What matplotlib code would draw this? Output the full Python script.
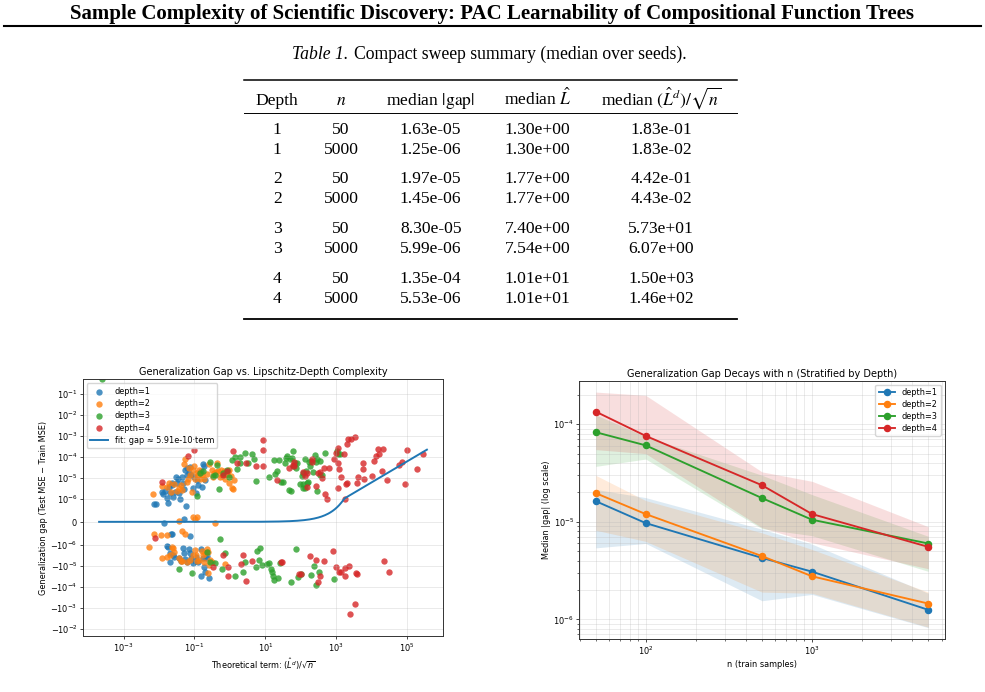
import numpy as np
import matplotlib
matplotlib.use("Agg")
import matplotlib.pyplot as plt
from matplotlib.lines import Line2D

plt.rcParams['font.family'] = ['DejaVu Sans']

# ---------------- data ----------------
page_title = "Sample Complexity of Scientific Discovery: PAC Learnability of Compositional Function Trees"
caption_lead = "Table 1."
caption_text = "Compact sweep summary (median over seeds)."
table_header = ["Depth", "$n$", "median $|\\mathrm{gap}|$", "median $\\hat{L}$",
                "median $(\\hat{L}^d)/\\sqrt{n}$"]
table_depth = ["1", "1", "2", "2", "3", "3", "4", "4"]
table_n = ["50", "5000", "50", "5000", "50", "5000", "50", "5000"]
table_gap = ["1.63e-05", "1.25e-06", "1.97e-05", "1.45e-06", "8.30e-05", "5.99e-06", "1.35e-04", "5.53e-06"]
table_L = ["1.30e+00", "1.30e+00", "1.77e+00", "1.77e+00", "7.40e+00", "7.54e+00", "1.01e+01", "1.01e+01"]
table_term = ["1.83e-01", "1.83e-02", "4.42e-01", "4.43e-02", "5.73e+01", "6.07e+00", "1.50e+03", "1.46e+02"]

# scatter: log10(theoretical term) and generalization gap
d1_logterm = [-2.083, -2.13, -1.923, -1.876, -1.82, -1.782, -1.754, -1.707, -1.688, -1.641, -1.622, -1.594,
              -1.557, -1.528, -1.5, -1.463, -1.434, -1.406, -1.36, -1.331, -1.293, -1.265, -1.237, -1.218,
              -1.2, -1.162, -1.124, -1.086, -1.049, -1.011, -0.964, -0.936, -0.908, -0.861, -0.823, -0.786,
              -0.748, -0.72, -0.692, -1.848, -1.30,
              -1.669, -1.632, -1.115, -1.763, -1.735, -1.698, -1.613, -1.698, -1.575, -1.425, -1.387, -1.312,
              -1.284, -1.256, -1.209, -1.143, -1.115, -1.087, -1.03, -0.993, -0.946, -0.805, -0.767, -0.739,
              -0.692, -0.664, -0.645, -0.579, -0.824, -0.899]
d1_gap = [7.7e-7, 7.7e-7, 2.15e-6, 1.6e-6, 2.4e-6, 1.04e-6, 8e-7, 3.7e-6, 1.9e-6, 4.5e-6, 5.8e-6, 1.25e-6,
          2.15e-6, 1.05e-5, 5.8e-6, 8.3e-6, 1.8e-6, 9.7e-7, 1.05e-5, 5.4e-6, 2.8e-6, 2.3e-5, 6.6e-7, 1.35e-5,
          2.8e-5, 1.6e-5, 3.1e-5, 1.35e-5, 3.1e-6, 1.05e-5, 1.9e-6, 7.8e-6, 4.5e-6, 1.6e-5, 2.1e-5, 3.7e-6,
          4.5e-5, 3.6e-5, 7.8e-6, -3e-8, 1.4e-7,
          -5.1e-7, -5.1e-7, -6.0e-7, -1.16e-6, -1.29e-6, -2.4e-6, -3.0e-6, -6.45e-6, -3.6e-6, -3.9e-6, -5.8e-6,
          -1.39e-6, -2.5e-6, -4.6e-6, -6.7e-6, -1.55e-6, -2.4e-6, -4.3e-6, -7.2e-6, -5.8e-6, -3.7e-6, -1.55e-6,
          -4.0e-6, -1.08e-5, -2.0e-5, -4.3e-6, -3.3e-6, -3.7e-5, -2.9e-5, -6.7e-6]

d2_logterm = [-2.158, -1.923, -1.782, -1.707, -1.669, -1.575, -1.5, -1.434, -1.387, -1.35, -1.293, -1.265,
              -1.218, -1.181, -1.143, -1.115, -1.068, -1.04, -1.021, -0.992, -0.955, -0.908, -0.88, -0.851,
              -0.814, -0.776, -0.739, -0.654, -0.598, -0.513, -0.475, -0.438, -0.4, -0.362, -0.325, -0.287,
              -0.25, -0.212, -0.174, -0.137, -0.09, -0.052, -0.015, 0.023, 0.061, 0.098, -0.033, 0.117,
              -1.434, -1.03, -0.983, -0.936, -0.419,
              -2.281, -2.14, -1.933, -1.782, -1.35, -1.256, -1.923, -1.763, -1.641, -1.594, -1.575, -1.688,
              -1.425, -1.387, -1.35, -1.218, -1.124, -1.03, -0.992, -0.955, -0.917, -0.861, -0.795, -0.748,
              -0.729, -0.692, -0.654, -0.617, -0.598, -0.56, -0.513, -0.127, -0.626]
d2_gap = [1.6e-6, 4.0e-6, 3.5e-6, 5.8e-6, 2.15e-6, 5.0e-6, 2.4e-6, 3.1e-6, 4.5e-6, 2.6e-6, 4.5e-5, 7.5e-5,
          6.45e-6, 9.0e-6, 2.8e-5, 1.3e-5, 2.1e-6, 2.3e-5, 3.5e-5, 9.0e-6, 1.6e-5, 1.34e-5, 2.3e-5, 9.0e-6,
          1.73e-5, 1.34e-5, 9.0e-6, 1.5e-5, 4.5e-5, 2.3e-5, 1.1e-5, 1.6e-5, 1.9e-5, 4.8e-5, 2.0e-5, 1.1e-5,
          2.3e-5, 1.2e-5, 2.15e-5, 8.3e-6, 1.5e-5, 2.15e-5, 5.4e-6, 1.2e-5, 3.1e-6, 2.8e-6, 2.3e-5, 7.7e-6,
          3e-8, 1.9e-7, 1.1e-7, 1.9e-7, -3e-8,
          -1.2e-6, -5.3e-7, -5.7e-7, -5.7e-7, -3.9e-7, -5.3e-7, -4.3e-6, -3.6e-6, -1.2e-6, -1.44e-6, -2.1e-6,
          -3.0e-6, -4.3e-6, -5.8e-6, -5.8e-6, -6.2e-6, -5.2e-6, -3.0e-6, -1.73e-6, -2.8e-6, -5.8e-6, -5.2e-6,
          -1.93e-6, -2.8e-6, -6.2e-6, -2.5e-6, -1.55e-6, -2.1e-6, -9.0e-6, -5.2e-6, -6.2e-6, -8.3e-6, -2.15e-5]

d3_logterm = [-3.616,
              -0.917, -0.56, -0.372, -0.419, -0.297, 0.051, 0.155, 0.286, 0.437, 0.615, 0.681, 0.211, 0.30,
              0.503, 0.728, -0.09, -0.033, -0.842, -0.767, -0.466, -0.184, 1.104, 1.245, 1.264, 1.32, 1.396,
              1.433, 1.49, 1.555, 1.584, 1.622, 1.659, 1.716, 1.697, 1.744, 1.772, 1.791, 1.838, 1.866, 1.904,
              2.026, 2.054, 2.073, 2.12, 2.148, 2.167, 2.214, 2.242, 2.261, 2.28, 2.337, 2.402, 2.43, 2.449,
              2.468, 2.543, 2.55, 2.59, 2.684, 3.013, 3.06, 3.107, 2.06, 2.13, 1.979,
              -0.278, -0.127, -1.425, -1.068, -0.635, -0.56, -0.428, -0.222, 0.145, 0.371, 0.418, 0.756, 0.86,
              0.813, 0.916, 0.75, 1.058, 1.096, 1.152, 1.19, 1.228, 1.246, 1.369, 1.416, 1.717, 1.867, 1.933,
              1.999, 2.281, 2.375, 2.431, 2.525, 2.939]
d3_gap = [0.5,
          1.34e-6, 5.8e-5, 3.9e-5, 1.3e-5, 2.8e-6, 6.9e-5, 1.0e-4, 1.0e-4, 1.44e-4, 1.3e-4, 8.0e-5, 2.7e-5,
          4.8e-5, 4.8e-5, 6.9e-6, 2.3e-5, 1.1e-5, 1.73e-5, 2.1e-5, 1.2e-5, 1.73e-5, 1.1e-5, 6.9e-5, 1.44e-5,
          2.1e-5, 6.9e-5, 6.2e-6, 6.2e-6, 4.8e-5, 9.0e-5, 1.08e-4, 2.6e-6, 2.3e-6, 7.5e-5, 9.0e-5, 1.86e-4,
          3.6e-5, 4.8e-5, 3.0e-5, 4.8e-5, 1.2e-5, 1.73e-5, 4.8e-6, 7.5e-5, 2.1e-5, 5.8e-6, 6.2e-6, 5.6e-5,
          3.6e-5, 6.2e-5, 1.86e-5, 1.24e-4, 5.6e-5, 2.3e-6, 7.5e-5, 6.2e-5, 1.3e-5, 1.3e-5, 1.55e-4, 1.86e-4,
          1.3e-4, 1.3e-4, 3.3e-6, 3.1e-6, 4.8e-6,
          -7.4e-7, -2.5e-6, -1.44e-5, -2.2e-5, -2.2e-6, -6.2e-6, -7.5e-6, -1.44e-5, -3.0e-5, -1.86e-5, -6.7e-6,
          -1.86e-6, -1.44e-6, -5.2e-6, -9.0e-6, -1.16e-5, -8.3e-6, -7.5e-6, -1.39e-5, -1.86e-5, -2.9e-5,
          -4.6e-5, -3.5e-5, -7.5e-6, -5.6e-5, -1.6e-6, -3.2e-5, -2.4e-5, -2.7e-5, -1.0e-5, -8.0e-5, -1.86e-5,
          -4.3e-5]

d4_logterm = [-1.905, -1.19, -1.021, 0.098, 0.192, 0.446, 0.728, 0.926, 0.93, 0.945, -0.184, -0.09, 1.32,
              1.678, 1.772, 1.81, 1.819, 2.073, 2.12, 2.167, 2.17, 2.308, 2.327, 2.43, 2.496, 2.543, 2.59,
              2.656, 2.684, 2.731, 2.787, 2.938, 2.994, 3.041, 3.06, 3.088, 3.144, 3.045, 3.22, 3.248, 3.276,
              3.314, 3.295, 3.333, 3.408, 3.54, 3.577, 3.624, 3.746, 3.765, 3.77, 4.0, 4.066, 4.122, 4.188,
              4.217, 4.33, 4.283, 4.442, 4.781, 4.847, 4.941, 5.007, 5.289, 5.458,
              -2.102, -0.184, -0.485, -0.052, -0.04, 0.381, 0.456, 0.625, 0.305, 1.433, 1.471, 1.96, 1.997,
              2.26, 2.43, 2.533, 2.486, 2.656, 2.91, 3.004, 3.07, 3.126, 3.239, 3.258, 3.352, 3.559, 3.597,
              4.349, 4.5, 3.522, 3.39]
d4_gap = [6.2e-6, 1.08e-4, 2.1e-4, 1.86e-4, 4.8e-5, 4.8e-5, 3.6e-5, 6.2e-4, 2.1e-4, 3.6e-5, 1.3e-5, 2.1e-5,
          7.7e-6, 3.0e-5, 3.9e-5, 5.6e-5, 3.6e-5, 1.86e-5, 1.2e-5, 1.73e-5, 3.5e-6, 7.5e-5, 5.6e-5, 4.0e-6,
          1.6e-5, 1.93e-5, 1.0e-5, 3.0e-5, 1.6e-6, 1.0e-6, 3.0e-5, 8.0e-5, 1.55e-4, 2.7e-4, 5.2e-5, 2.5e-5,
          1.1e-5, 3.3e-6, 1.39e-4, 1.0e-6, 4.8e-6, 5.8e-6, 3.9e-4, 6.7e-4, 6.7e-4, 9.0e-4, 5.4e-6, 1.1e-5,
          5.2e-5, 2.5e-5, 8.3e-6, 1.2e-5, 6.2e-5, 1.08e-4, 2.2e-4, 1.39e-4, 2.4e-4, 2.1e-5, 7.7e-6, 3.9e-5,
          5.6e-5, 4.8e-6, 2.1e-4, 2.5e-5, 1.3e-4,
          -6.9e-7, -2.8e-6, -1.08e-5, -1.08e-5, -2.9e-5, -3.1e-6, -5.2e-5, -5.8e-6, -8.3e-6, -6.7e-6, -6.7e-6,
          -2.5e-5, -2.3e-5, -3.3e-6, -5.2e-6, -3.0e-5, -5.6e-5, -5.8e-6, -1.86e-6, -1.16e-5, -1.86e-5,
          -1.86e-5, -3.1e-5, -1.2e-5, -1.0e-5, -2.15e-5, -2.4e-5, -5.8e-6, -2.0e-5, -6.2e-4, -1.9e-3]

fit_coef = 5.91e-10
fit_term_min = 2.05e-4
fit_term_max = 3.62e5
left_xticks = [1e-3, 1e-1, 1e1, 1e3, 1e5]

# median |gap| vs n with inter-quantile band
n_train = [50, 100, 500, 1000, 5000]
med = {1: [1.63e-5, 9.7e-6, 4.26e-6, 3.08e-6, 1.25e-6],
       2: [1.97e-5, 1.2e-5, 4.45e-6, 2.76e-6, 1.45e-6],
       3: [8.30e-5, 6.08e-5, 1.75e-5, 1.05e-5, 5.99e-6],
       4: [1.35e-4, 7.6e-5, 2.37e-5, 1.2e-5, 5.53e-6]}
lo = {1: [5.4e-6, 6.0e-6, 1.55e-6, 1.8e-6, 8.2e-7],
      2: [8.2e-6, 6.3e-6, 1.9e-6, 1.85e-6, 8.3e-7],
      3: [3.7e-5, 4.4e-5, 8.5e-6, 7.2e-6, 3.1e-6],
      4: [5.5e-5, 5.0e-5, 8.7e-6, 6.1e-6, 3.3e-6]}
hi = {1: [2.15e-5, 1.77e-5, 8.4e-6, 5.9e-6, 1.85e-6],
      2: [3.0e-5, 1.65e-5, 7.7e-6, 5.2e-6, 1.9e-6],
      3: [1.25e-4, 7.5e-5, 3.0e-5, 1.9e-5, 7.1e-6],
      4: [2.14e-4, 1.98e-4, 3.25e-5, 2.6e-5, 8.9e-6]}

colors = {1: "#1f77b4", 2: "#ff7f0e", 3: "#2ca02c", 4: "#d62728"}

# ---------------- figure ----------------
W, H = 985, 692
fig = plt.figure(figsize=(W / 100, H / 100), dpi=100)

def fx(px):
    return px / W

def fy(py):
    return 1 - py / H

serif = "Liberation Serif"

# page header
fig.text(fx(492), fy(18.5), page_title, ha="center", va="baseline", family=serif,
         weight="bold", fontsize=15.0)
fig.add_artist(Line2D([fx(4), fx(981)], [fy(25.5), fy(25.5)], color="black", lw=1.5))

# table caption
fig.text(fx(291.5), fy(59.3), caption_lead, ha="left", va="baseline", family=serif,
         style="italic", fontsize=12.7)
fig.text(fx(354), fy(59.3), caption_text, ha="left", va="baseline", family=serif, fontsize=12.7)

# table rules
tx0, tx1 = fx(244), fx(737)
fig.add_artist(Line2D([tx0, tx1], [fy(80.3), fy(80.3)], color="black", lw=1.1))
fig.add_artist(Line2D([tx0, tx1], [fy(113.3), fy(113.3)], color="black", lw=0.7))
fig.add_artist(Line2D([tx0, tx1], [fy(319.3), fy(319.3)], color="black", lw=1.3))

col_x = [277.3, 341, 430.7, 537.7, 661]
header_base = 105
row_base = [134.3, 153.7, 183.3, 203.3, 233.3, 253.3, 283.3, 303.3]
for cx, txt in zip(col_x, table_header):
    fig.text(fx(cx), fy(header_base), txt, ha="center", va="baseline", family=serif,
             fontsize=12.6, math_fontfamily="stix")
for i, rb in enumerate(row_base):
    for cx, txt in zip(col_x, [table_depth[i], table_n[i], table_gap[i], table_L[i], table_term[i]]):
        fig.text(fx(cx), fy(rb), txt, ha="center", va="baseline", family=serif, fontsize=12.6)

# ---------------- left plot ----------------
small = 5.9
ax1 = fig.add_axes([fx(82.7), fy(636), fx(443.3) - fx(82.7), fy(379.3) - fy(636)])
for d, (lt, gp) in zip([1, 2, 3, 4], [(d1_logterm, d1_gap), (d2_logterm, d2_gap),
                                       (d3_logterm, d3_gap), (d4_logterm, d4_gap)]):
    ax1.scatter(10.0 ** np.array(lt), gp, s=21, color=colors[d], alpha=0.8, linewidths=0,
                label=f"depth={d}")
fit_x = np.logspace(np.log10(fit_term_min), np.log10(fit_term_max), 300)
ax1.plot(fit_x, fit_coef * fit_x, color=colors[1], lw=1.4, label="fit: gap ≈ 5.91e-10·term")
ax1.set_xscale("log")
ax1.set_yscale("symlog", linthresh=1e-6, linscale=1)
ax1.set_xticks(left_xticks)
ax1.set_xlim(10 ** -4.151, 10 ** 6.021)
ax1.set_ylim(-0.0215, 0.485)
ax1.grid(True, alpha=0.3, lw=0.6)
ax1.set_title("Generalization Gap vs. Lipschitz-Depth Complexity", fontsize=7.0, pad=3)
ax1.set_xlabel("Theoretical term: $(\\hat{L}^d)/\\sqrt{n}$", fontsize=small, labelpad=2)
ax1.set_ylabel("Generalization gap (Test MSE − Train MSE)", fontsize=small, labelpad=2)
ax1.tick_params(labelsize=small, length=2.2, width=0.5, pad=1.5)
ax1.tick_params(which="minor", length=1.3, width=0.4)
for s in ax1.spines.values():
    s.set_linewidth(0.7)
    s.set_color("#333333")
ax1.legend(loc="upper left", fontsize=small, frameon=True, borderpad=0.4, handlelength=2.2,
           labelspacing=0.4, framealpha=0.8, markerscale=1.0)

# ---------------- right plot ----------------
ax2 = fig.add_axes([fx(579), fy(639.3), fx(945) - fx(579), fy(380.7) - fy(639.3)])
for d in [1, 2, 3, 4]:
    ax2.fill_between(n_train, lo[d], hi[d], color=colors[d], alpha=0.15, lw=0)
    ax2.plot(n_train, med[d], marker="o", ms=4.4, lw=1.35, color=colors[d], label=f"depth={d}")
ax2.set_xscale("log")
ax2.set_yscale("log")
ax2.set_xlim(10 ** 1.599, 10 ** 3.799)
ax2.set_ylim(10 ** -6.205, 10 ** -3.553)
ax2.grid(True, which="both", alpha=0.35, lw=0.5)
ax2.set_title("Generalization Gap Decays with n (Stratified by Depth)", fontsize=7.0, pad=3)
ax2.set_xlabel("n (train samples)", fontsize=small, labelpad=2)
ax2.set_ylabel("Median |gap| (log scale)", fontsize=small, labelpad=2)
ax2.tick_params(labelsize=small, length=2.2, width=0.5, pad=1.5)
ax2.tick_params(which="minor", length=1.3, width=0.4)
for s in ax2.spines.values():
    s.set_linewidth(0.7)
    s.set_color("#333333")
ax2.legend(loc="upper right", fontsize=small, frameon=True, borderpad=0.4, handlelength=2.0,
           labelspacing=0.35, framealpha=0.8)

fig.savefig("out.png", dpi=100)
